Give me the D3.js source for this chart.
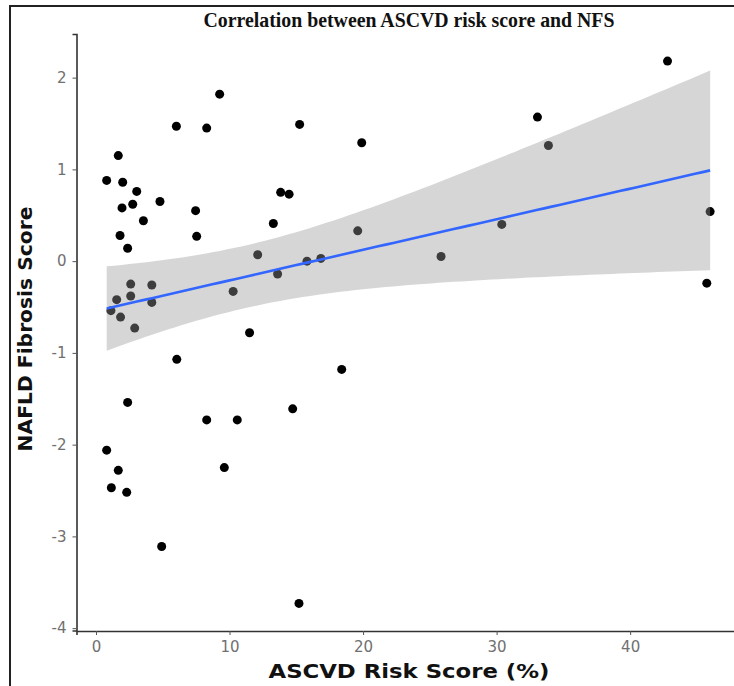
<!DOCTYPE html>
<html>
<head>
<meta charset="utf-8">
<script src="https://cdn.jsdelivr.net/npm/d3@7"></script>
<style>
  body{margin:0;background:#fff;}
  svg{display:block;}
</style>
</head>
<body>
<div id="chart"></div>
<script>
//ASCVD risk score (%) vs NAFLD fibrosis score
var ascvd=[0.80,1.67,2.00,3.05,2.75,1.95,4.79,3.55,7.46,7.54,1.80,2.37,6.02,8.29,9.26,15.25,19.90,13.83,14.46,13.28,
    19.60,12.11,15.80,16.84,13.60,25.84,30.39,33.06,33.88,42.80,45.99,45.74,10.27,11.50,18.40,2.60,4.18,1.55,2.60,4.18,
    1.12,1.84,2.90,6.05,2.37,8.29,10.58,14.73,0.80,1.67,9.61,1.15,2.30,4.92,15.20];
var nfs=[0.88,1.15,0.86,0.76,0.62,0.58,0.65,0.44,0.55,0.27,0.28,0.14,1.47,1.45,1.82,1.49,1.29,0.75,0.73,0.41,
    0.33,0.07,0.00,0.03,-0.14,0.05,0.40,1.57,1.26,2.18,0.54,-0.24,-0.33,-0.78,-1.18,-0.25,-0.26,-0.42,-0.38,-0.45,
    -0.54,-0.61,-0.73,-1.07,-1.54,-1.73,-1.73,-1.61,-2.06,-2.28,-2.25,-2.47,-2.52,-3.11,-3.73];
var xTicks=[0,10,20,30,40];
var yTicks=[-4,-3,-2,-1,0,1,2];
var title="Correlation between ASCVD risk score and NFS";
var xTitle="ASCVD Risk Score (%)";
var yTitle="NAFLD Fibrosis Score";

var width=734,height=686;
var data=ascvd.map(function (d,i) {
    return {x:d,y:nfs[i]};
});

var svg=d3.select("#chart")
    .append("svg")
    .attr("width",width)
    .attr("height",height);

//外框
svg.append("path")
    .attr("d","M10,"+height+" L10,6 L"+width+",6")
    .attr("fill","none")
    .attr("stroke","#222")
    .attr("stroke-width",2);

//比例尺，ggplot默认扩展5%
var xExt=d3.extent(ascvd),yExt=d3.extent(nfs);
var xPad=(xExt[1]-xExt[0])*0.05,yPad=(yExt[1]-yExt[0])*0.05;
var x=d3.scaleLinear()
    .domain([xExt[0]-xPad,xExt[1]+xPad])
    .range([76.5,740.3]);
var y=d3.scaleLinear()
    .domain([yExt[0]-yPad,yExt[1]+yPad])
    .range([630.5,34]);

//线性回归和95%置信区间
var n=data.length;
var mx=d3.mean(ascvd),my=d3.mean(nfs);
var sxx=d3.sum(ascvd,function (d) { return (d-mx)*(d-mx); });
var sxy=d3.sum(data,function (d) { return (d.x-mx)*(d.y-my); });
var slope=sxy/sxx,inter=my-slope*mx;
var sse=d3.sum(data,function (d) { var r=d.y-(inter+slope*d.x); return r*r; });
var s=Math.sqrt(sse/(n-2));
var tq=2.0057;
var fit=d3.range(0,81).map(function (i) {
    var xv=xExt[0]+(xExt[1]-xExt[0])*i/80;
    var yv=inter+slope*xv;
    var se=s*Math.sqrt(1/n+(xv-mx)*(xv-mx)/sxx);
    return {x:xv,y:yv,lo:yv-tq*se,hi:yv+tq*se};
});

//散点
svg.append("g")
    .selectAll("circle")
    .data(data)
    .enter().append("circle")
    .attr("cx",function (d) { return x(d.x); })
    .attr("cy",function (d) { return y(d.y); })
    .attr("r",4.5)
    .attr("fill","#000");

//置信带
svg.append("path")
    .datum(fit)
    .attr("d",d3.area()
        .x(function (d) { return x(d.x); })
        .y0(function (d) { return y(d.lo); })
        .y1(function (d) { return y(d.hi); }))
    .attr("fill","#999")
    .attr("fill-opacity",0.4);

//回归线
svg.append("path")
    .datum(fit)
    .attr("d",d3.line()
        .x(function (d) { return x(d.x); })
        .y(function (d) { return y(d.y); }))
    .attr("fill","none")
    .attr("stroke","#3366ff")
    .attr("stroke-width",2.6);

//坐标轴
var xAxis=svg.append("g")
    .attr("transform","translate(0,631)")
    .call(d3.axisBottom(x).tickValues(xTicks).tickSize(4).tickPadding(6));
var yAxis=svg.append("g")
    .attr("transform","translate(76.5,0)")
    .call(d3.axisLeft(y).tickValues(yTicks).tickSize(4).tickPadding(6)
        .tickFormat(function (d) { return d<0?"-"+Math.abs(d):d; }));
[xAxis,yAxis].forEach(function (g) {
    g.select(".domain").attr("stroke","#333").attr("stroke-width",1.6);
    g.selectAll(".tick line").attr("stroke","#555");
    g.selectAll(".tick text")
        .attr("fill","#707070")
        .style("font-family","'DejaVu Sans',sans-serif")
        .style("font-size","15px");
});

//标题
svg.append("text")
    .attr("x",409)
    .attr("y",27)
    .attr("text-anchor","middle")
    .attr("textLength",411)
    .attr("lengthAdjust","spacingAndGlyphs")
    .style("font-family","'Liberation Serif','Times New Roman',serif")
    .style("font-weight","bold")
    .style("font-size","21px")
    .attr("fill","#111")
    .text(title);

svg.append("text")
    .attr("x",409)
    .attr("y",678)
    .attr("text-anchor","middle")
    .attr("textLength",281)
    .attr("lengthAdjust","spacingAndGlyphs")
    .style("font-family","'DejaVu Sans',sans-serif")
    .style("font-weight","bold")
    .style("font-size","20px")
    .attr("fill","#111")
    .text(xTitle);

svg.append("text")
    .attr("transform","translate(32,329) rotate(-90)")
    .attr("text-anchor","middle")
    .attr("textLength",245)
    .attr("lengthAdjust","spacingAndGlyphs")
    .style("font-family","'DejaVu Sans',sans-serif")
    .style("font-weight","bold")
    .style("font-size","20px")
    .attr("fill","#111")
    .text(yTitle);
</script>
</body>
</html>
